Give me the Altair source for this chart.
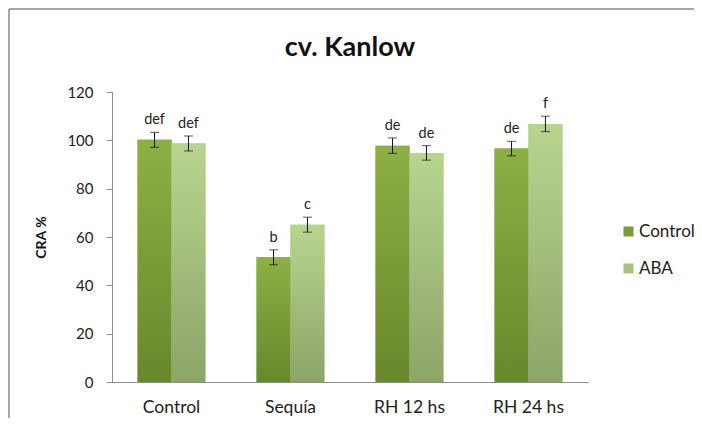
import altair as alt
import pandas as pd

categories = ["Control", "Sequía", "RH 12 hs", "RH 24 hs"]
series = ["Control", "ABA"]
control_vals = [100.2, 51.6, 97.8, 96.6]
aba_vals = [98.7, 65.1, 94.8, 106.8]
control_err = [3.1, 3.1, 3.2, 3.0]
aba_err = [3.1, 3.1, 3.0, 3.2]
control_letters = ["def", "b", "de", "de"]
aba_letters = ["def", "c", "de", "f"]
chart_title = "cv. Kanlow"

rows = []
for i, c in enumerate(categories):
    rows.append(dict(cat=c, series="Control", v=control_vals[i], e=control_err[i], lab=control_letters[i]))
    rows.append(dict(cat=c, series="ABA", v=aba_vals[i], e=aba_err[i], lab=aba_letters[i]))
df = pd.DataFrame(rows)
df["lo"] = df["v"] - df["e"]
df["hi"] = df["v"] + df["e"]

FONT = "Lato"
xenc = alt.X("cat:N", sort=categories, title=None,
             scale=alt.Scale(paddingInner=0.43, paddingOuter=0.215),
             axis=alt.Axis(labelAngle=0, ticks=False, domainColor="#8c8c8c",
                           labelFontSize=17.5, labelPadding=16, labelColor="#222",
                           labelFont=FONT))
xoff = alt.XOffset("series:N", sort=series, scale=alt.Scale(domain=series))
yscale = alt.Scale(domain=[0, 120])

base = alt.Chart(df)

solid = base.mark_bar().encode(
    x=xenc, xOffset=xoff,
    y=alt.Y("v:Q", scale=yscale,
            axis=alt.Axis(values=[0, 20, 40, 60, 80, 100, 120], grid=False,
                          tickSize=6, tickColor="#8c8c8c", domainColor="#8c8c8c",
                          labelFontSize=15, labelPadding=13, labelColor="#222",
                          labelFont=FONT, title="CRA %", titleFont=FONT,
                          titleFontSize=14, titleFontWeight="bold",
                          titleX=-64, titleY=145, titleColor="#111")),
    color=alt.Color("series:N", sort=series,
                    scale=alt.Scale(domain=series, range=["#7a9c38", "#a8c27e"]),
                    legend=alt.Legend(title=None, orient="none", legendX=508,
                                      legendY=131, symbolType="square",
                                      symbolSize=100, symbolStrokeWidth=0,
                                      labelFontSize=17, labelFont=FONT,
                                      labelColor="#222", rowPadding=19,
                                      labelOffset=2, labelLimit=200)),
)

def grad(top, bottom):
    return alt.Gradient(gradient="linear",
                        stops=[alt.GradientStop(color=top, offset=0),
                               alt.GradientStop(color=bottom, offset=1)],
                        x1=0, x2=0, y1=0, y2=1)

dark = base.transform_filter(alt.datum.series == "Control").mark_bar(
    color=grad("#8db044", "#67882b")).encode(x=xenc, xOffset=xoff, y=alt.Y("v:Q", scale=yscale))
light = base.transform_filter(alt.datum.series == "ABA").mark_bar(
    color=grad("#b9d48f", "#8da567")).encode(x=xenc, xOffset=xoff, y=alt.Y("v:Q", scale=yscale))

err = base.mark_rule(color="#111", strokeWidth=1).encode(
    x=xenc, xOffset=xoff, y=alt.Y("lo:Q", scale=yscale), y2="hi:Q")
cap_lo = base.mark_tick(color="#111", thickness=1, size=9).encode(
    x=xenc, xOffset=xoff, y=alt.Y("lo:Q", scale=yscale))
cap_hi = base.mark_tick(color="#111", thickness=1, size=9).encode(
    x=xenc, xOffset=xoff, y=alt.Y("hi:Q", scale=yscale))
txt = base.mark_text(font=FONT, fontSize=14.5, baseline="bottom", dy=-5, color="#222").encode(
    x=xenc, xOffset=xoff, y=alt.Y("hi:Q", scale=yscale), text="lab:N")

title_df = pd.DataFrame({"t": [chart_title]})
title_mark = alt.Chart(title_df).mark_text(
    font=FONT, fontSize=27, fontWeight="bold", color="#111",
    align="center", baseline="middle").encode(
    text="t:N", x=alt.value(238), y=alt.value(-44))

border_v = alt.Chart(title_df).mark_rule(color="#8a8a8a", strokeWidth=1.5).encode(
    x=alt.value(-103), y=alt.value(-83), y2=alt.value(340))
border_h = alt.Chart(title_df).mark_rule(color="#8a8a8a", strokeWidth=1.5).encode(
    x=alt.value(-103), x2=alt.value(700), y=alt.value(-83))

chart = alt.layer(solid, dark, light, err, cap_lo, cap_hi, txt, title_mark,
                  border_v, border_h).properties(
    width=476, height=290,
    autosize=alt.AutoSizeParams(type="none"),
    padding={"left": 104, "top": 84, "right": 106, "bottom": 36},
).configure_view(stroke=None)

chart.save("out.html", embed_options={"renderer": "svg", "actions": False})
